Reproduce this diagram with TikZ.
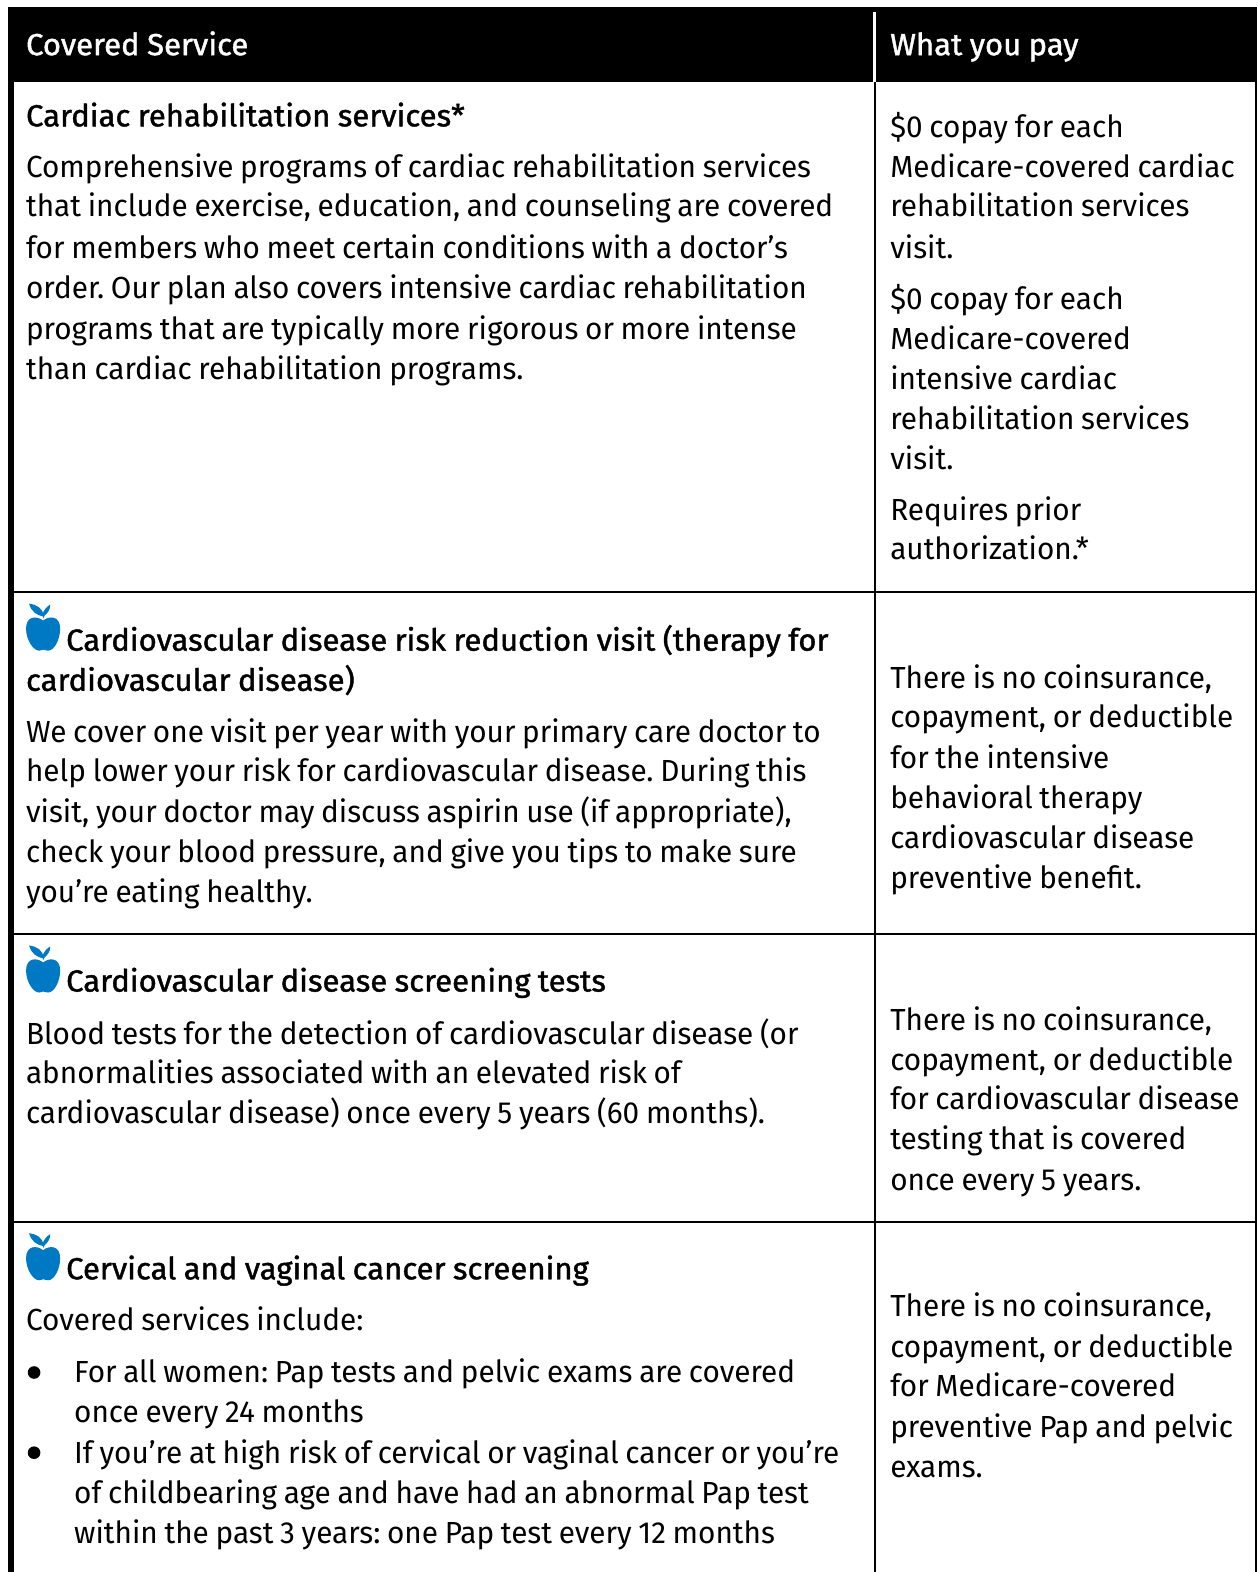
\documentclass[tikz,border=0pt]{standalone}
\usepackage{fontspec}
\setmainfont[FakeStretch=0.975,WordSpace=0.85]{Fira Sans}
\newfontfamily\hdfont[FakeBold=1.3,FakeStretch=1.02,WordSpace=0.9]{Fira Sans}
\definecolor{applebl}{HTML}{0079C4}
\newcommand{\bodysz}{\fontsize{30.5}{40}\selectfont\frenchspacing}
\newcommand{\tln}[4]{\node[txt,yshift=-0.4pt] (#1) at (#2,#3) {#4};}
\newcommand{\hln}[4]{\node[txt,font=\hdfont\bodysz] (#1) at (#2,#3) {#4};}
\tikzset{
 txt/.style={anchor=base west,inner sep=0pt,outer sep=0pt,font=\bodysz,text=black},
 hdr/.style={anchor=base west,inner sep=0pt,outer sep=0pt,font=\hdfont\bodysz,text=white},
 rule/.style={black,line width=2pt},
 apple/.pic={
  \fill[applebl] (17,16) .. controls (11,11) and (0,11) .. (0,24)
    .. controls (0,35) and (7,46) .. (13,46)
    .. controls (15,46) and (16,45) .. (17,45)
    .. controls (18,45) and (20,46) .. (22,46)
    .. controls (28,46) and (34,35) .. (34,24)
    .. controls (34,11) and (23,11) .. (17,16) -- cycle;
  \fill[applebl] (3,-1) .. controls (10,0) and (17,3) .. (17.5,12)
    .. controls (11,11) and (5,7) .. (3,-1) -- cycle;
  \fill[applebl] (24,0) .. controls (24.5,5) and (21,9) .. (18.5,11) -- (17,14) -- (16.5,9)
    .. controls (18,5) and (21,2) .. (24,0) -- cycle;
 }
}
\begin{document}
\begin{tikzpicture}[x=1.00255pt,y=-1.00255pt]
\useasboundingbox (0,0) rectangle (1253.8,1568);
\fill[white] (0,0) rectangle (1253.8,1568);
\fill[black] (8,7) rectangle (1253.8,82);
\fill[black] (8,7) rectangle (14,1568);
\fill[white] (871,12) rectangle (874,82);
\draw[rule] (873,82) -- (873,1568);
\draw[rule] (1253,82) -- (1253,1568);
\draw[rule] (14,590.5) -- (1253,590.5);
\draw[rule] (14,931.5) -- (1253,931.5);
\draw[rule] (14,1218.5) -- (1253,1218.5);
\node[hdr] (h1) at (26,55) {Covered Service};
\node[hdr] (h2) at (888,55) {What you pay};
\hln{a0}{26}{126}{Cardiac rehabilitation services*}
\tln{a1}{26}{177}{Comprehensive programs of cardiac rehabilitation services}
\tln{a2}{26}{216}{that include exercise, education, and counseling are covered}
\tln{a3}{26}{257}{for members who meet certain conditions with a doctor’s}
\tln{a4}{26}{297}{order. Our plan also covers intensive cardiac rehabilitation}
\tln{a5}{26}{338}{programs that are typically more rigorous or more intense}
\tln{a6}{26}{378}{than cardiac rehabilitation programs.}
\tln{p1}{888}{137}{\$0 copay for each}
\tln{p2}{888}{177}{Medicare-covered cardiac}
\tln{p3}{888}{216}{rehabilitation services}
\tln{p4}{888}{257}{visit.}
\tln{p5}{888}{308}{\$0 copay for each}
\tln{p6}{888}{348}{Medicare-covered}
\tln{p7}{888}{388}{intensive cardiac}
\tln{p8}{888}{428}{rehabilitation services}
\tln{p9}{888}{468}{visit.}
\tln{p10}{888}{519}{Requires prior}
\tln{p11}{888}{558}{authorization.*}
\pic at (26,603) {apple};
\hln{b0}{66}{649}{Cardiovascular disease risk reduction visit (therapy for}
\hln{b1}{26}{689}{cardiovascular disease)}
\tln{b2}{26}{740}{We cover one visit per year with your primary care doctor to}
\tln{b3}{26}{779}{help lower your risk for cardiovascular disease. During this}
\tln{b4}{26}{820}{visit, your doctor may discuss aspirin use (if appropriate),}
\tln{b5}{26}{860}{check your blood pressure, and give you tips to make sure}
\tln{b6}{26}{900}{you’re eating healthy.}
\tln{q1}{888}{686}{There is no coinsurance,}
\tln{q2}{888}{725}{copayment, or deductible}
\tln{q3}{888}{766}{for the intensive}
\tln{q4}{888}{806}{behavioral therapy}
\tln{q5}{888}{846}{cardiovascular disease}
\tln{q6}{888}{886}{preventive benefit.}
\pic at (26,944) {apple};
\hln{c0}{66}{989}{Cardiovascular disease screening tests}
\tln{c1}{26}{1041}{Blood tests for the detection of cardiovascular disease (or}
\tln{c2}{26}{1080}{abnormalities associated with an elevated risk of}
\tln{c3}{26}{1120}{cardiovascular disease) once every 5 years (60 months).}
\tln{r1}{888}{1027}{There is no coinsurance,}
\tln{r2}{888}{1067}{copayment, or deductible}
\tln{r3}{888}{1106}{for cardiovascular disease}
\tln{r4}{888}{1146}{testing that is covered}
\tln{r5}{888}{1187}{once every 5 years.}
\pic at (26,1231) {apple};
\hln{d0}{66}{1276}{Cervical and vaginal cancer screening}
\tln{d1}{26}{1327}{Covered services include:}
\fill[black] (34,1369) circle (6.3);
\tln{d2}{74}{1379}{For all women: Pap tests and pelvic exams are covered}
\tln{d3}{74}{1418}{once every 24 months}
\fill[black] (34,1449) circle (6.3);
\tln{d4}{74}{1459}{If you’re at high risk of cervical or vaginal cancer or you’re}
\tln{d5}{74}{1499}{of childbearing age and have had an abnormal Pap test}
\tln{d6}{74}{1539}{within the past 3 years: one Pap test every 12 months}
\tln{s1}{888}{1313}{There is no coinsurance,}
\tln{s2}{888}{1354}{copayment, or deductible}
\tln{s3}{888}{1393}{for Medicare-covered}
\tln{s4}{888}{1433}{preventive Pap and pelvic}
\tln{s5}{888}{1473}{exams.}
\end{tikzpicture}
\end{document}
